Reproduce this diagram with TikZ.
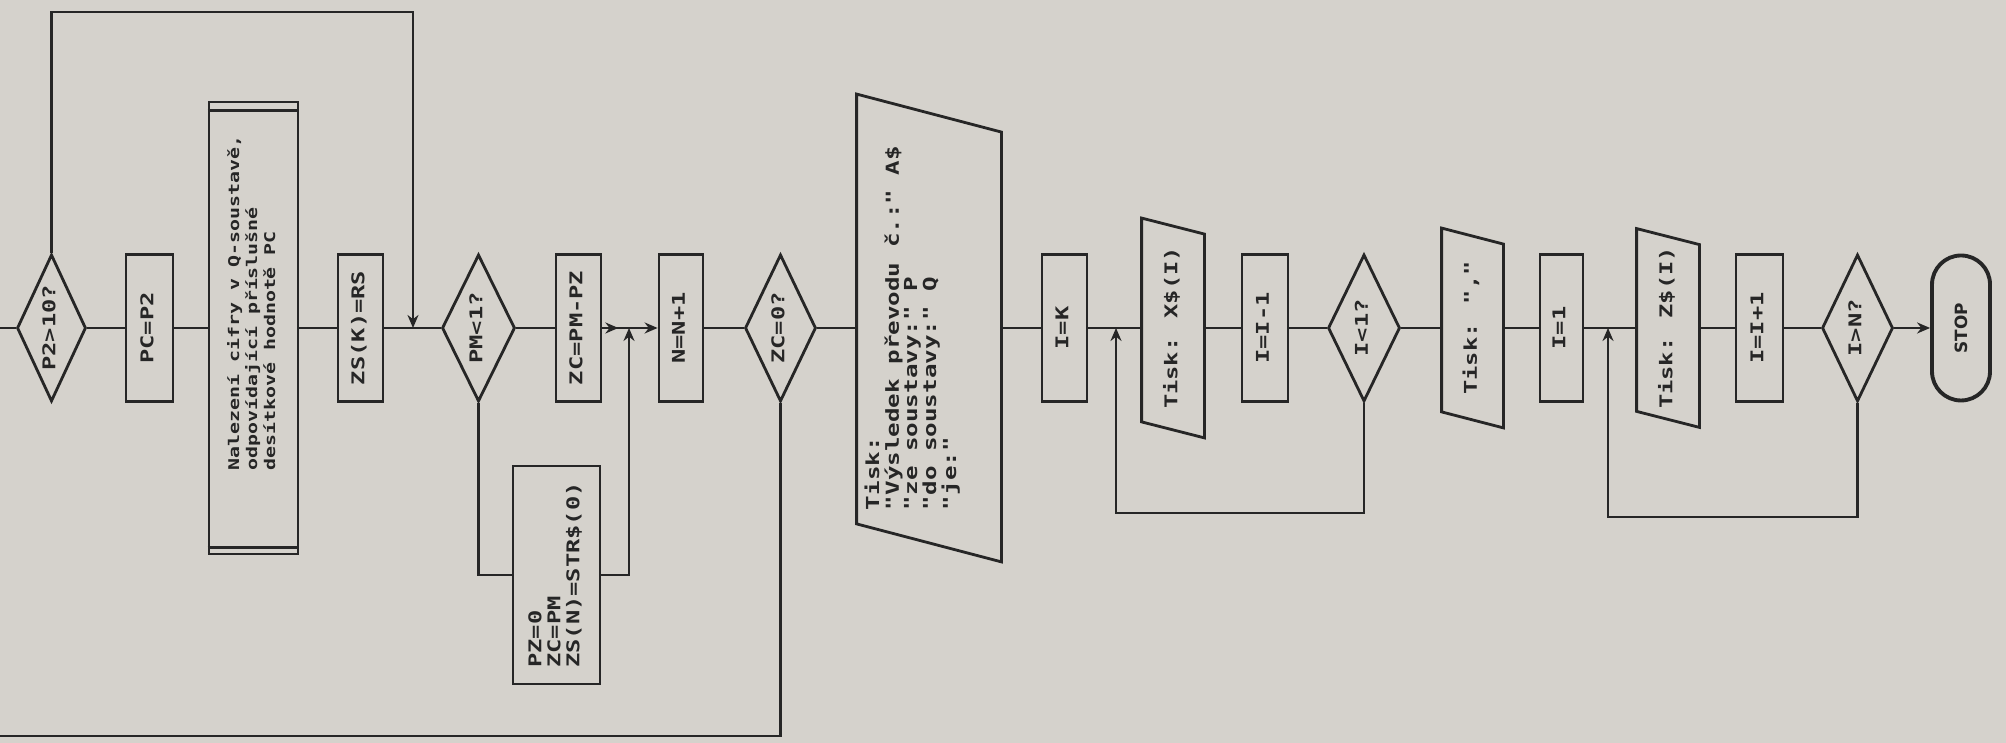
\documentclass[tikz,border=0pt]{standalone}
\usepackage{fontspec}
\usepackage{graphicx}
\usetikzlibrary{arrows.meta,shapes.geometric,decorations.markings}
\newfontfamily\plotfont[Ligatures=TeXOff,FakeStretch=1.35]{DejaVu Sans Mono}
\newfontfamily\stopfam{DejaVu Sans}
\definecolor{paper}{RGB}{213,210,204}
\definecolor{ink}{RGB}{38,38,38}
\newcommand{\plotsize}{\plotfont\bfseries\fontsize{5}{5.4}\selectfont}
\newcommand{\plotwide}{\plotfont\bfseries\fontsize{5.1}{5.1}\selectfont}
\newcommand{\plotsmall}{\plotfont\bfseries\fontsize{4.2}{5.1}\selectfont}
\newcommand{\stopfont}{\stopfam\bfseries\fontsize{4.8}{5}\selectfont}
\newcommand{\vtext}[1]{\rotatebox{90}{\begin{tabular}{@{}l@{}}#1\end{tabular}}}
\newcommand{\ioframe}[2]{\draw ([yshift=#2]#1.north west) -- ([yshift=-#2]#1.north east) -- ([yshift=-#2]#1.south east) -- ([yshift=#2]#1.south west) -- cycle;}

\begin{document}
\begin{tikzpicture}[
  color=ink, line width=0.8pt,
  proc/.style={rectangle,draw,minimum height=1.47cm,inner sep=0.5pt,font=\plotsize},
  decis/.style={diamond,draw,aspect=0.47,minimum height=1.47cm,inner sep=0.5pt,font=\plotsize},
  predef/.style={proc,minimum width=0.89cm,minimum height=4.52cm,font=\plotsmall},
  iobox/.style={rectangle,inner sep=0.5pt,font=\plotsize},
  term/.style={rectangle,draw,rounded corners=2.9mm,minimum width=0.58cm,minimum height=1.45cm,line width=1.1pt,font=\stopfont},
  arrow/.style={-{Stealth[length=1.3mm,width=1.1mm]}},
  midarrow/.style={postaction={decorate},decoration={markings,mark=at position 0.6 with {\arrow{Stealth[length=1.3mm,width=1.1mm]}}}}
]
\useasboundingbox (0,0) rectangle (20.06,7.43);
\fill[paper] (0,0) rectangle (20.06,7.43);

\coordinate (in) at (0,4.15);
\coordinate (out) at (0,0.07);

\node[decis,minimum width=0.69cm] (D1) at (0.515,4.15) {\vtext{P2>10?}};
\node[proc,minimum width=0.47cm] (B1) at (1.495,4.15) {\vtext{PC=P2}};
\node[predef] (B2) at (2.535,4.15) {\rotatebox{90}{\hspace{5mm}\begin{tabular}{@{}l@{}}Nalezení cifry v Q-soustavě,\\odpovídající příslušné\\desítkové hodnotě PC\end{tabular}}};
\node[proc,minimum width=0.45cm] (B3) at (3.605,4.15) {\vtext{ZS(K)=RS}};
\coordinate (j1) at (4.13,4.15);
\coordinate (t1) at (4.13,7.31);

\node[decis,minimum width=0.73cm] (D2) at (4.785,4.15) {\vtext{PM<1?}};
\node[proc,minimum width=0.45cm] (B4) at (5.785,4.15) {\vtext{ZC=PM-PZ}};
\node[proc,minimum width=0.87cm,minimum height=2.18cm] (B6) at (5.565,1.68) {\vtext{PZ=0\\ZC=PM\\ZS(N)=STR\$(0)}};
\coordinate (j2) at (6.29,4.15);
\node[proc,minimum width=0.44cm] (B5) at (6.81,4.15) {\vtext{N=N+1}};
\node[decis,minimum width=0.71cm] (D3) at (7.805,4.15) {\vtext{ZC=0?}};

\node[iobox,minimum width=1.42cm,minimum height=4.27cm,font=\plotwide] (IO1) at (9.29,4.15) {\rotatebox{90}{\raisebox{0pt}[\height][\dimexpr\depth+3.2mm]{\begin{tabular}{@{}l@{}}Tisk:\\"Výsledek převodu č.:" A\$\\"ze soustavy:" P\\"do soustavy:" Q\\"je:"\end{tabular}}}};
\node[proc,minimum width=0.45cm] (B7) at (10.645,4.15) {\vtext{I=K}};
\coordinate (j3) at (11.16,4.15);
\coordinate (l1) at (11.16,2.30);
\node[iobox,minimum width=0.60cm,minimum height=2.01cm] (IO2) at (11.73,4.15) {\vtext{Tisk: X\$(I)}};
\node[proc,minimum width=0.46cm] (B8) at (12.65,4.15) {\vtext{I=I-1}};
\node[decis,minimum width=0.72cm] (D4) at (13.64,4.15) {\vtext{I<1?}};

\node[iobox,minimum width=0.59cm,minimum height=1.81cm] (IO3) at (14.725,4.15) {\vtext{Tisk: ","}};
\node[proc,minimum width=0.43cm] (B9) at (15.615,4.15) {\vtext{I=1}};
\coordinate (j4) at (16.08,4.15);
\coordinate (l2) at (16.08,2.26);
\node[iobox,minimum width=0.60cm,minimum height=1.80cm] (IO4) at (16.68,4.15) {\vtext{Tisk: Z\$(I)}};
\node[proc,minimum width=0.47cm] (B10) at (17.595,4.15) {\vtext{I=I+1}};
\node[decis,minimum width=0.71cm] (D5) at (18.575,4.15) {\vtext{I>N?}};
\node[term] (STOP) at (19.61,4.15) {\rotatebox{90}{STOP}};

\draw ([yshift=-1mm]B2.north west) -- ([yshift=-1mm]B2.north east);
\draw ([yshift=0.8mm]B2.south west) -- ([yshift=0.8mm]B2.south east);
\ioframe{IO1}{1.9mm}
\ioframe{IO2}{0.8mm}
\ioframe{IO3}{0.8mm}
\ioframe{IO4}{0.8mm}

\draw (in) -- (D1) -- (B1) -- (B2) -- (B3) -- (D2) -- (B4);
\draw[arrow] (D1.north) |- (t1) -- (j1);
\draw[midarrow] (B4) -- (j2);
\draw[arrow] (j2) -- (B5);
\draw (D2.south) |- (B6.west);
\draw[arrow] (B6.east) -| (j2);
\draw (B5) -- (D3) -- (IO1) -- (B7) -- (IO2) -- (B8) -- (D4) -- (IO3) -- (B9) -- (IO4) -- (B10) -- (D5);
\draw (D3.south) |- (out);
\draw[arrow] (D4.south) |- (l1) -- (j3);
\draw[arrow] (D5.south) |- (l2) -- (j4);
\draw[arrow] (D5) -- (STOP);

\end{tikzpicture}
\end{document}
